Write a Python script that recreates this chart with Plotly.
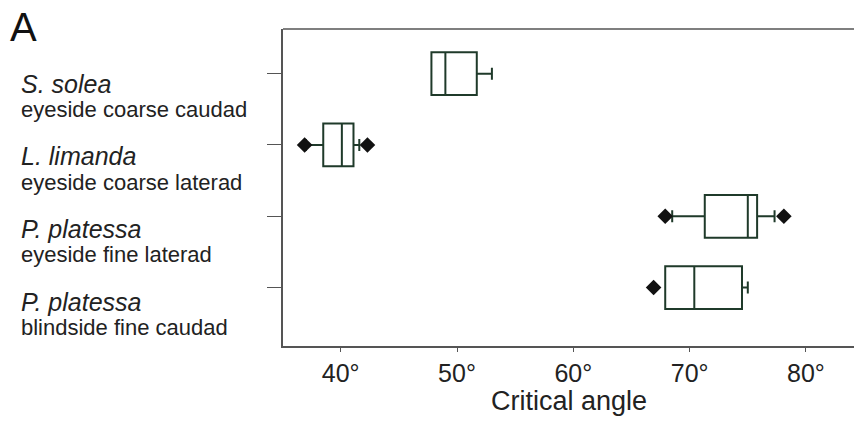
import plotly.graph_objects as go

# ---- data ----
species = ["S. solea", "L. limanda", "P. platessa", "P. platessa"]
descriptions = ["eyeside coarse caudad", "eyeside coarse laterad",
                "eyeside fine laterad", "blindside fine caudad"]
categories = ["S. solea eyeside coarse caudad", "L. limanda eyeside coarse laterad",
              "P. platessa eyeside fine laterad", "P. platessa blindside fine caudad"]
q1 = [47.8, 38.5, 71.3, 67.9]
median = [49.0, 40.1, 75.0, 70.4]
q3 = [51.7, 41.1, 75.8, 74.5]
lowerfence = [47.8, 37.0, 68.5, 67.9]
upperfence = [53.0, 41.6, 77.3, 75.0]
outlier_cat = [categories[1], categories[1], categories[2], categories[2], categories[3]]
outlier_val = [36.9, 42.3, 67.9, 78.1, 66.9]
tick_vals = [40, 50, 60, 70, 80]
tick_text = ["40°", "50°", "60°", "70°", "80°"]

W, H = 854, 421
ML, MR, MT, MB = 283, 0, 29, 75
plot_w = W - ML - MR
plot_h = H - MT - MB

fig = go.Figure()
for i, c in enumerate(categories):
    fig.add_trace(go.Box(
        y=[c], q1=[q1[i]], median=[median[i]], q3=[q3[i]],
        lowerfence=[lowerfence[i]], upperfence=[upperfence[i]],
        orientation="h", width=0.6, whiskerwidth=0.28,
        fillcolor="white", line=dict(color="#1f3a2a", width=2),
        boxpoints=False, showlegend=False, hoverinfo="skip"))

fig.add_trace(go.Scatter(
    x=outlier_val, y=outlier_cat, mode="markers",
    marker=dict(symbol="diamond", size=12, color="#111111"),
    showlegend=False, hoverinfo="skip"))

font = "Liberation Sans, Arial, sans-serif"
annotations = []
annotations.append(dict(text="A", xref="paper", yref="paper",
                        x=(8 - ML) / plot_w,
                        y=(H - MB - 27) / plot_h,
                        xanchor="left", yanchor="middle", showarrow=False,
                        font=dict(family=font, size=40, color="#111111")))
for i in range(len(species)):
    sp_px = 83.5 + 72.7 * i
    de_px = sp_px + 26
    annotations.append(dict(text="<i>" + species[i] + "</i>", xref="paper", yref="paper",
                            x=(19 - ML) / plot_w,
                            y=(H - MB - sp_px) / plot_h,
                            xanchor="left", yanchor="middle", showarrow=False,
                            font=dict(family=font, size=25, color="#222222")))
    annotations.append(dict(text=descriptions[i], xref="paper", yref="paper",
                            x=(19 - ML) / plot_w,
                            y=(H - MB - de_px) / plot_h,
                            xanchor="left", yanchor="middle", showarrow=False,
                            font=dict(family=font, size=22, color="#222222")))
annotations.append(dict(text="Critical angle", xref="paper", yref="paper",
                        x=0.5, y=(H - MB - 401) / plot_h,
                        xanchor="center", yanchor="middle", showarrow=False,
                        font=dict(family=font, size=27, color="#222222")))

fig.update_layout(
    width=W, height=H,
    margin=dict(l=ML, r=MR, t=MT, b=MB),
    paper_bgcolor="white", plot_bgcolor="white",
    annotations=annotations,
    shapes=[dict(type="line", xref="paper", yref="paper", x0=0, x1=1, y0=1, y1=1,
                 line=dict(color="#555555", width=1.5))],
    xaxis=dict(range=[35.04, 84.13], tickvals=tick_vals, ticktext=tick_text,
               showgrid=False, zeroline=False, showline=True, linecolor="#555555",
               linewidth=1.5, ticks="outside", ticklen=4, tickcolor="#555555",
               tickfont=dict(family=font, size=25, color="#222222")),
    yaxis=dict(type="category", categoryorder="array", categoryarray=categories,
               range=[3.82, -0.627], showgrid=False, zeroline=False,
               showline=True, linecolor="#555555", linewidth=1.5,
               ticks="outside", ticklen=14, tickcolor="#555555",
               showticklabels=False),
)

fig.write_html("out.html", config={"displayModeBar": False},
               post_script="document.body.style.margin='0';document.body.style.overflow='hidden';")
